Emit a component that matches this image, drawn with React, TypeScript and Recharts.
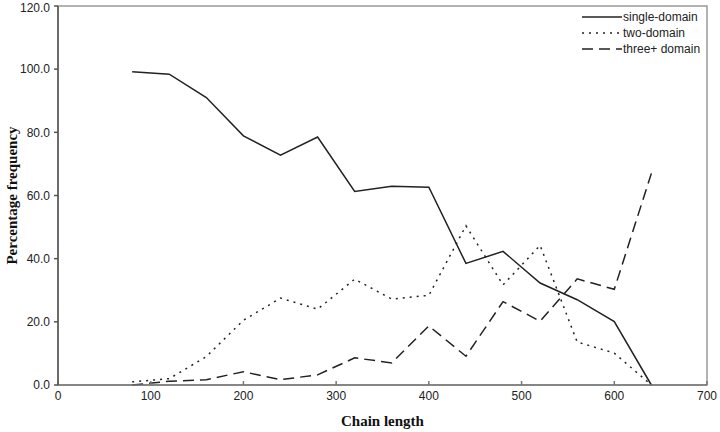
import {
    Legend,
    Line,
    LineChart,
    ReferenceArea,
    XAxis,
    YAxis,
} from "recharts";

const chainLengths = [80, 120, 160, 200, 240, 280, 320, 360, 400, 440, 480, 520, 560, 600, 640];
const singleDomain = [99.2, 98.4, 91.0, 78.9, 72.8, 78.5, 61.3, 62.9, 62.6, 38.5, 42.3, 32.3, 27.0, 20.1, 0];
const twoDomain = [1.0, 2.0, 9.0, 20.5, 27.5, 24.0, 33.5, 27.2, 28.4, 50.4, 31.7, 44.2, 13.6, 10.1, 0];
const threeDomain = [0.0, 1.2, 1.7, 4.2, 1.7, 3.2, 8.6, 7.0, 18.7, 9.1, 26.4, 20.2, 33.6, 30.3, 67.0];

const xTicks = [0, 100, 200, 300, 400, 500, 600, 700];
const yTicks = [0, 20, 40, 60, 80, 100, 120];

const seriesList = [
    { dataKey: "single", name: "single-domain", dash: undefined as string | undefined },
    { dataKey: "two", name: "two-domain", dash: "2 5" },
    { dataKey: "three", name: "three+ domain", dash: "11 6" },
];

const data = chainLengths.map((len, i) => ({
    len,
    single: singleDomain[i],
    two: twoDomain[i],
    three: threeDomain[i],
}));

const tickFont = { fontFamily: "'Liberation Sans', Arial, sans-serif", fontSize: 12, fill: "#222" };
const titleFont = { fontFamily: "'Liberation Serif', 'Times New Roman', serif", fontSize: 15, fontWeight: 700, fill: "#111" };

function LegendBox() {
    return (
        <div style={{ fontFamily: "'Liberation Sans', Arial, sans-serif", fontSize: 12, color: "#222" }}>
            {seriesList.map((s) => (
                <div key={s.dataKey} style={{ display: "flex", alignItems: "center", height: 16 }}>
                    <svg width={40} height={8}>
                        <line x1={0} y1={4} x2={40} y2={4} stroke="#222" strokeWidth={1.5} strokeDasharray={s.dash} />
                    </svg>
                    <span style={{ marginLeft: 1 }}>{s.name}</span>
                </div>
            ))}
        </div>
    );
}

export default function App() {
    return (
        <div style={{ position: "absolute", left: 0, top: 0, background: "#fff" }}>
            <LineChart width={720} height={432} data={data} margin={{ top: 6, right: 13, left: 0, bottom: 0 }}>
                <ReferenceArea x1={0} x2={700} y1={0} y2={120} fill="none" stroke="#999" strokeWidth={1.5} />
                <XAxis
                    dataKey="len"
                    type="number"
                    domain={[0, 700]}
                    ticks={xTicks}
                    height={47}
                    stroke="#777"
                    strokeWidth={1.5}
                    tickSize={-4}
                    tickMargin={10}
                    tick={tickFont}
                    label={{ value: "Chain length", position: "insideBottom", offset: 6, style: titleFont }}
                />
                <YAxis
                    domain={[0, 120]}
                    ticks={yTicks}
                    width={58}
                    stroke="#555"
                    strokeWidth={1.5}
                    tickSize={4}
                    tickMargin={4}
                    tick={tickFont}
                    tickFormatter={(v: number) => v.toFixed(1)}
                    label={{ value: "Percentage frequency", angle: -90, position: "insideLeft", offset: 12, style: { ...titleFont, textAnchor: "middle" } }}
                />
                <Legend
                    verticalAlign="middle"
                    align="center"
                    layout="vertical"
                    wrapperStyle={{ left: 582, top: 9, width: 130 }}
                    content={() => <LegendBox />}
                />
                {seriesList.map((s) => (
                    <Line
                        key={s.dataKey}
                        type="linear"
                        dataKey={s.dataKey}
                        name={s.name}
                        stroke="#222"
                        strokeWidth={1.5}
                        strokeDasharray={s.dash}
                        dot={false}
                        activeDot={false}
                        isAnimationActive={false}
                    />
                ))}
            </LineChart>
        </div>
    );
}
